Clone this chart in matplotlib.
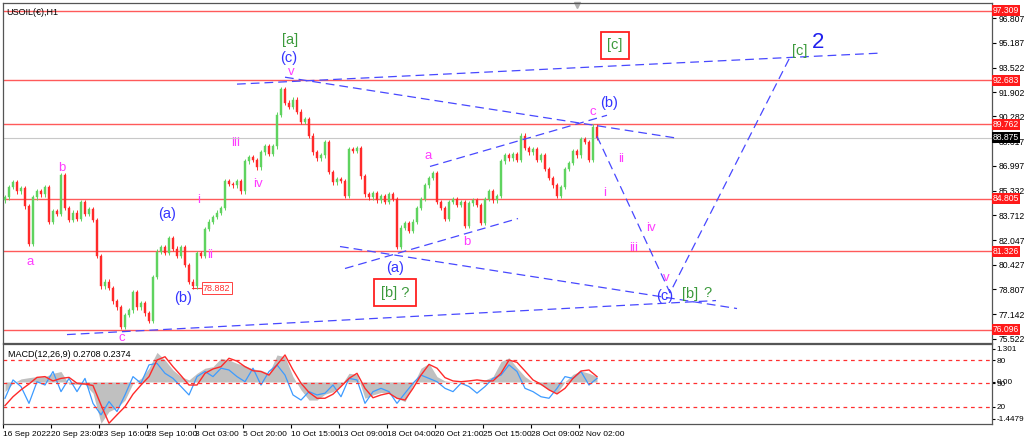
import numpy as np
import matplotlib
matplotlib.use("Agg")
import matplotlib.pyplot as plt

plt.rcParams['font.family'] = ['Liberation Sans', 'DejaVu Sans']

# hourly closes of USOIL, one entry per drawn candle
closes = [84.9, 85.6, 85.9, 85.3, 85.5, 84.3, 81.8, 84.9, 85.3, 85.1,
          85.6, 83.3, 84.0, 83.8, 86.4, 84.2, 83.4, 83.9, 83.5, 84.6,
          83.8, 84.1, 83.4, 81.0, 79.0, 79.3, 78.9, 78.0, 77.6, 76.3,
          77.1, 77.4, 78.6, 77.6, 77.9, 77.2, 76.7, 79.6, 81.3, 81.6,
          81.2, 82.2, 81.5, 81.0, 81.6, 80.4, 79.3, 79.0, 81.2, 81.0,
          82.8, 83.3, 83.6, 83.9, 84.2, 86.0, 85.8, 85.7, 86.0, 85.3,
          87.3, 87.6, 87.4, 86.9, 87.9, 88.3, 87.8, 88.3, 90.4, 92.1,
          91.2, 90.9, 91.4, 90.6, 89.9, 90.1, 89.0, 87.9, 87.5, 87.7,
          88.6, 86.6, 85.9, 86.1, 86.0, 85.0, 88.1, 88.0, 88.2, 86.3,
          85.1, 84.9, 85.2, 84.7, 85.0, 84.6, 85.1, 84.8, 81.6, 82.9,
          83.2, 82.7, 83.3, 84.2, 84.8, 85.7, 86.2, 86.5, 84.6, 84.2,
          83.5, 84.6, 84.8, 84.4, 84.6, 83.0, 84.5, 84.7, 84.4, 83.2,
          84.8, 85.3, 84.7, 85.0, 87.3, 87.7, 87.5, 87.8, 87.4, 89.0,
          88.2, 87.9, 88.1, 87.4, 87.7, 86.8, 86.2, 85.7, 85.0, 85.6,
          86.8, 87.2, 88.0, 87.7, 88.8, 88.6, 87.4, 89.6, 88.875]
first_open = 84.7

# MACD panel, one value every second candle
macd_main = [-0.38, -0.05, 0.12, 0.17, 0.21, 0.21, 0.34, 0.41, -0.09, -0.09,
             -0.10, -0.44, -1.62, -1.16, -1.01, -0.71, -0.05, 0.14, 0.54, 1.16,
             0.86, 0.47, 0.21, 0.08, 0.34, 0.54, 0.60, 0.93, 0.86, 0.73,
             0.64, 0.51, 0.46, 0.34, 1.06, 0.99, 0.21, -0.31, -0.71, -0.71,
             -0.48, -0.38, -0.14, 0.34, 0.30, -0.64, -0.51, -0.41, -0.44, -0.64,
             -0.77, -0.12, 0.54, 0.73, 0.21, 0.04, 0.01, 0.01, 0.01, 0.01,
             0.08, 0.21, 0.80, 0.95, 0.56, 0.21, -0.01, -0.12, -0.31, -0.44,
             0.01, 0.30, 0.43, 0.34, 0.21]
macd_signal = [-0.93, -0.58, -0.31, -0.08, 0.18, 0.21, 0.04, 0.14, 0.18, -0.05,
               -0.08, -0.14, -0.90, -1.62, -1.29, -0.97, -0.48, -0.12, 0.21, 0.86,
               0.99, 0.60, 0.25, -0.12, -0.12, 0.34, 0.51, 0.60, 0.93, 0.82,
               0.60, 0.44, 0.41, 0.27, 0.67, 1.06, 0.47, -0.05, -0.41, -0.64,
               -0.64, -0.48, -0.18, 0.14, 0.34, -0.25, -0.62, -0.51, -0.44, -0.64,
               -0.71, -0.25, 0.27, 0.69, 0.54, 0.17, 0.04, 0.01, 0.04, 0.08,
               0.04, 0.04, 0.34, 0.86, 0.77, 0.43, 0.08, -0.09, -0.31, -0.47,
               -0.25, 0.14, 0.43, 0.47, 0.21]
osc_blue = [-0.64, 0.08, -0.18, -0.84, 0.01, -0.12, 0.41, -0.38, 0.14, -0.38,
            0.14, -0.84, -1.29, -0.77, -1.16, -0.51, 0.21, -0.05, 0.67, 0.73,
            0.34, 0.14, -0.18, -0.51, 0.21, 0.41, 0.21, 0.54, 0.47, 0.21,
            0.01, 0.54, -0.12, 0.41, 0.67, 0.27, -0.51, -0.71, -0.38, -0.51,
            -0.44, -0.12, -0.58, 0.14, 0.08, -0.84, -0.38, -0.25, -0.38, -0.84,
            -0.44, -0.05, 0.27, 0.14, 0.01, -0.25, -0.38, -0.05, -0.18, -0.44,
            -0.18, 0.14, 0.27, 0.67, 0.41, -0.25, -0.38, -0.58, -0.64, -0.25,
            0.21, 0.14, 0.41, -0.12, 0.14]

date_labels = ['16 Sep 2022', '20 Sep 23:00', '23 Sep 16:00', '28 Sep 10:00',
               '3 Oct 03:00', '5 Oct 20:00', '10 Oct 15:00', '13 Oct 09:00',
               '18 Oct 04:00', '20 Oct 21:00', '25 Oct 15:00', '28 Oct 09:00',
               '2 Nov 02:00']

price_ticks = [96.807, 95.187, 93.522, 91.902, 90.282, 88.617, 86.997,
               85.332, 83.712, 82.047, 80.427, 78.807, 77.142, 75.522]
levels = [97.309, 92.683, 89.762, 84.805, 81.326, 76.096]
last_price = 88.875

# wave count trend lines: (bar, price) pairs
trend_lines = [
    [(15.5, 75.79), (177.75, 78.05)],
    [(83.75, 81.64), (183.0, 77.52)],
    [(85.0, 80.18), (128.25, 83.50)],
    [(106.25, 86.96), (150.5, 90.36)],
    [(58.0, 92.43), (218.75, 94.49)],
    [(70.0, 92.89), (168.25, 88.83)],
    [(148.0, 88.96), (166.25, 78.57), (196.25, 94.22)],
]

# wave labels: text, bar, price, kind
wave_labels = [
    ('[a]', 71.25, 95.36, 'g'), ('(c)', 71.0, 94.16, 'b'), ('v', 71.5, 93.23, 'm'),
    ('[c]', 198.75, 94.62, 'g'),
    ('c', 147.0, 90.56, 'm'), ('(b)', 151.0, 91.16, 'b'),
    ('ii', 154.0, 87.43, 'm'), ('i', 150.0, 85.17, 'm'), ('iv', 161.5, 82.9, 'm'),
    ('iii', 157.25, 81.51, 'm'), ('v', 165.25, 79.58, 'm'),
    ('(c)', 165.0, 78.38, 'b'), ('[b]', 171.25, 78.51, 'g'), ('?', 175.5, 78.58, 'g'),
    ('(a)', 97.5, 80.18, 'b'), ('a', 105.75, 87.63, 'm'), ('b', 115.5, 81.97, 'm'),
    ('b', 14.25, 86.83, 'm'), ('a', 6.25, 80.64, 'm'), ('c', 29.25, 75.58, 'm'),
    ('(a)', 40.5, 83.77, 'b'), ('(b)', 44.5, 78.24, 'b'),
    ('i', 48.5, 84.7, 'm'), ('ii', 51.25, 81.11, 'm'),
    ('iii', 57.75, 88.5, 'm'), ('iv', 63.25, 85.77, 'm'),
]
boxed_labels = [('[c]', 152.5, 95.02), ('[b] ?', 97.5, 78.58)]
low_mark = (44.8, 78.882)

colors = {'g': '#3c9a3c', 'b': '#3535ff', 'm': '#ff3cff'}
sizes = {'g': 10.5, 'b': 10.5, 'm': 9.5}

fig = plt.figure(figsize=(10.24, 4.41), dpi=100)
ax = fig.add_axes([3 / 1024, 1 - 343 / 441, 989 / 1024, 340 / 441])
axm = fig.add_axes([3 / 1024, 1 - 424 / 441, 989 / 1024, 80 / 441])

xlim = (-0.5, 246.75)

# candles
closes = np.array(closes)
opens = np.concatenate([[first_open], closes[:-1]])
idx = np.arange(len(closes))
up = closes >= opens
wick = 0.15
highs = np.maximum(opens, closes) + wick
lows = np.minimum(opens, closes) - wick
for m, col in [(up, '#5fd35f'), (~up, '#ff2a2a')]:
    ax.vlines(idx[m], lows[m], highs[m], color=col, lw=0.7, zorder=3)
    ax.bar(idx[m], (closes - opens)[m], bottom=opens[m], width=0.45,
           color=col, edgecolor=col, lw=0.3, zorder=3)

for lv in levels:
    ax.axhline(lv, color='#ff5a5a', lw=1.0, zorder=2)
ax.axhline(last_price, color='#c8c8c8', lw=0.8, zorder=1)

for pts in trend_lines:
    xs, ys = zip(*pts)
    ax.plot(xs, ys, color='#4848ff', lw=0.9, dashes=(7, 4), zorder=4)

for text, bx, py, kind in wave_labels:
    ax.text(bx, py, text, color=colors[kind], fontsize=sizes[kind],
            ha='center', va='center', zorder=5)
ax.text(203.25, 95.22, '2', color='#2020ee', fontsize=16, ha='center',
        va='center', zorder=5)
for text, bx, py in boxed_labels:
    ax.text(bx, py, text, color=colors['g'], fontsize=10.5, ha='center',
            va='center', zorder=5,
            bbox=dict(boxstyle='square,pad=0.45', fc='white', ec='#ff2020', lw=1.3))

# (b) low price marker
ax.plot([low_mark[0] + 2, low_mark[0] + 4.5], [low_mark[1]] * 2, color='#ff4040', lw=0.8)
ax.text(low_mark[0] + 4.7, low_mark[1], '%.3f' % low_mark[1], color='#ff3030',
        fontsize=6.5, va='center', ha='left',
        bbox=dict(boxstyle='square,pad=0.15', fc='white', ec='#ff4040', lw=0.7))

ax.set_xlim(*xlim)
ax.set_ylim(75.23, 97.82)
ax.set_xticks([])
ax.yaxis.tick_right()
ax.set_yticks(price_ticks)
ax.set_yticklabels(['%.3f' % t for t in price_ticks])
ax.tick_params(axis='y', labelsize=6.2, length=3, pad=1.5, colors='black')
ytr = ax.get_yaxis_transform()
for lv in levels:
    ax.text(1.001, lv, '%.3f' % lv, transform=ytr, color='white', fontsize=6.2,
            va='center', ha='left', zorder=6, clip_on=False,
            bbox=dict(boxstyle='square,pad=0.12', fc='#ff1a1a', ec='none'))
ax.text(1.001, last_price, '%.3f' % last_price, transform=ytr, color='white',
        fontsize=6.2, va='center', ha='left', zorder=6, clip_on=False,
        bbox=dict(boxstyle='square,pad=0.12', fc='black', ec='none'))
ax.text(0.003, 0.985, 'USOIL(€),H1', transform=ax.transAxes, fontsize=6.5,
        va='top', ha='left')
# shift marker at the top
ax.plot([143.0], [97.68], marker='v', color='#b0b0b0', ms=5, clip_on=False)

# MACD panel
mx = np.arange(len(macd_main)) * 2
axm.fill_between(mx, 0, macd_main, color='#c0c0c0', lw=0)
axm.plot(mx, osc_blue, color='#3d9bff', lw=0.9)
axm.plot(mx, macd_signal, color='#ff2a2a', lw=1.0)
for lv in [0.86, -0.06, -0.98]:
    axm.axhline(lv, color='#ff3030', lw=0.9, dashes=(3, 3))
axm.set_xlim(*xlim)
axm.set_ylim(-1.65, 1.49)
axm.yaxis.tick_right()
axm.set_yticks([1.301, 0.86, -0.06, 0.0, -0.98, -1.4479])
axm.set_yticklabels(['1.301', '80', '50', '0.00', '20', '-1.4479'])
axm.tick_params(axis='y', labelsize=5.9, length=2, pad=1)
axm.set_xticks(-0.5 + 12 * np.arange(len(date_labels)))
axm.set_xticklabels(date_labels, ha='left')
axm.tick_params(axis='x', labelsize=6.0, length=3, pad=2)
axm.text(0.005, 0.93, 'MACD(12,26,9) 0.2708 0.2374', transform=axm.transAxes,
         fontsize=6.5, va='top', ha='left')

for a in (ax, axm):
    for s in a.spines.values():
        s.set_color('#555555')
        s.set_linewidth(0.9)

fig.savefig('out.png', dpi=100)
